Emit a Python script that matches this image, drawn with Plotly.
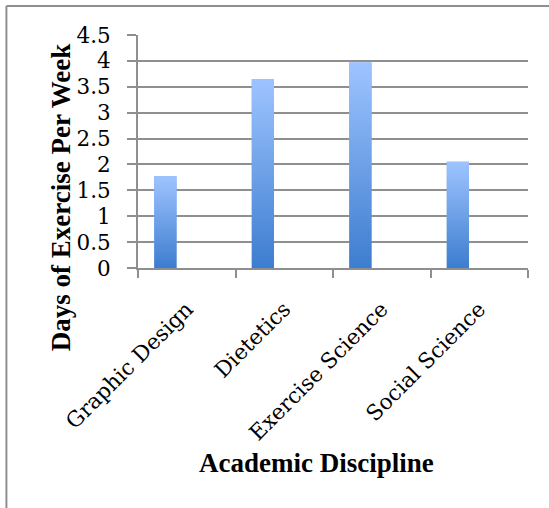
import plotly.graph_objects as go

categories = ["Graphic Design", "Dietetics", "Exercise Science", "Social Science"]
days_per_week = [1.77, 3.65, 3.97, 2.05]
y_tick_values = [0, 0.5, 1, 1.5, 2, 2.5, 3, 3.5, 4, 4.5]
y_tick_labels = ["0", "0.5", "1", "1.5", "2", "2.5", "3", "3.5", "4", "4.5"]
x_title = "Academic Discipline"
y_title = "Days of Exercise Per Week"

GRID = "#8f8f8f"
BAR_TOP = "#9ec4ff"
BAR_BOTTOM = "#3d7dcf"
BAR_WIDTH = 0.228
BAR_OFFSET = -0.333
TICK_FONT = dict(family="DejaVu Serif", size=21.5, color="black")
TITLE_FONT = dict(family="Liberation Serif", size=27, color="black")

positions = list(range(len(categories)))
boundaries = [p - 0.5 for p in positions] + [positions[-1] + 0.5]

fig = go.Figure()
fig.add_trace(go.Bar(
    x=positions,
    y=days_per_week,
    width=BAR_WIDTH,
    offset=BAR_OFFSET,
    marker=dict(color="#6c9fe8", line=dict(width=0)),
    customdata=categories,
    hovertemplate="%{customdata}: %{y}<extra></extra>",
    showlegend=False,
))

# vertical gradient fill for each bar, built from the same data arrays
for pos, val in zip(positions, days_per_week):
    x0 = pos + BAR_OFFSET
    x1 = x0 + BAR_WIDTH
    fig.add_trace(go.Scatter(
        x=[x0, x1, x1, x0, x0],
        y=[0, 0, val, val, 0],
        mode="lines", line=dict(width=0),
        fill="toself",
        fillgradient=dict(type="vertical",
                          colorscale=[[0, BAR_BOTTOM], [1, BAR_TOP]]),
        hoverinfo="skip", showlegend=False,
    ))

fig.update_layout(
    width=549, height=508,
    margin=dict(l=138, r=21, t=35, b=240, pad=0),
    paper_bgcolor="white", plot_bgcolor="white",
    xaxis=dict(
        range=[-0.5, len(categories) - 0.5],
        tickvals=positions, ticktext=categories,
        showline=True, linecolor=GRID, linewidth=2,
        ticks="", ticklabelstandoff=18,
        tickangle=-45, tickfont=TICK_FONT,
        showgrid=False, zeroline=False,
        minor=dict(tickvals=boundaries, ticks="outside", ticklen=8,
                   tickwidth=2, tickcolor=GRID, showgrid=False),
    ),
    yaxis=dict(
        range=[0, 4.5], tickvals=y_tick_values, ticktext=y_tick_labels,
        showline=True, linecolor=GRID, linewidth=2,
        ticks="outside", ticklen=9, tickwidth=2, tickcolor=GRID,
        ticklabelstandoff=12,
        showgrid=True, gridcolor=GRID, gridwidth=2,
        zeroline=False, tickfont=TICK_FONT,
    ),
    annotations=[
        dict(text="<b>" + y_title + "</b>", xref="paper", yref="paper",
             x=-0.199, y=0.301, xanchor="center", yanchor="middle",
             textangle=-90, showarrow=False, font=TITLE_FONT),
        dict(text="<b>" + x_title + "</b>", xref="paper", yref="paper",
             x=0.4568, y=-0.839, xanchor="center", yanchor="middle",
             showarrow=False, font=TITLE_FONT),
    ],
    shapes=[
        dict(type="line", xref="paper", yref="paper", x0=-0.3374, x1=1.2,
             y0=1.1243, y1=1.1243, line=dict(color=GRID, width=2)),
        dict(type="line", xref="paper", yref="paper", x0=-0.3374, x1=-0.3374,
             y0=1.1243, y1=-1.2, line=dict(color=GRID, width=2)),
    ],
)

fig.write_html("out.html")
